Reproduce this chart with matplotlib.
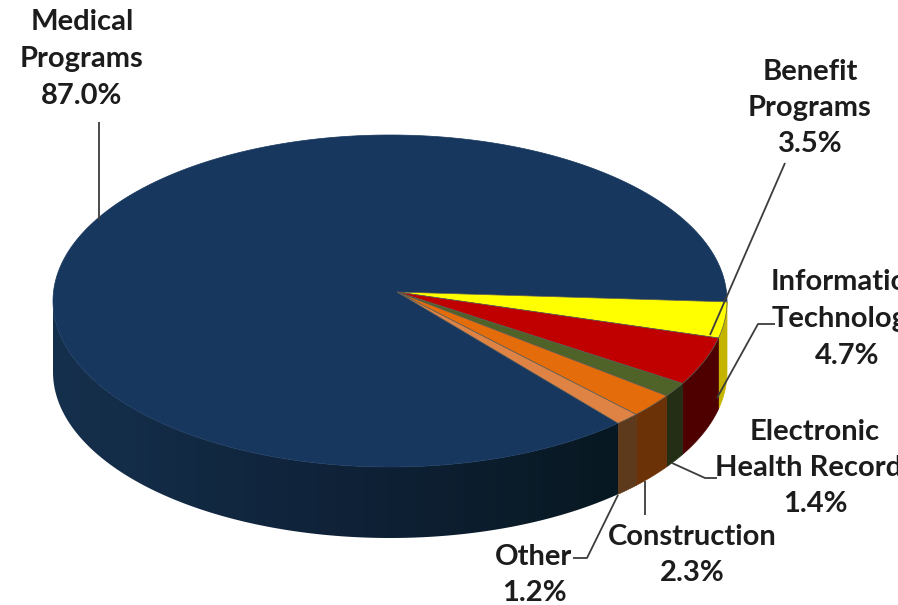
import numpy as np
import matplotlib
matplotlib.use('Agg')
import matplotlib.pyplot as plt
from matplotlib.colors import LinearSegmentedColormap
from matplotlib.patches import Polygon

labels = ['Benefit\nPrograms', 'Information\nTechnology', 'Electronic\nHealth Records',
          'Construction', 'Other', 'Medical\nPrograms']
values = [3.5, 4.7, 1.4, 2.3, 1.2, 87.0]
top_colors = ['#FFFF00', '#C00000', '#4F6228', '#E46C0A', '#DE8344', '#17375E']
side_colors = ['#C4B400', '#4E0000', '#232E14', '#6A3206', '#5E3A1C', '#081822']

# label centre (middle of text block) in pixels
label_pos = [(810, 108), (847, 319), (815, 468), (692, 555), (534, 575), (82, 59)]
leaders = [
    [(785, 163), (710, 335)],
    [(775, 324), (758, 324), (717, 398)],
    [(672, 463), (705, 478), (717, 478)],
    [(645, 481), (645, 515)],
    [(618, 495), (587, 558), (573, 558)],
    [(99, 122), (99, 220)],
]

cx, cy, rx, ry = 390, 301, 337, 166
apex = (397, 292)
depth = 71


def rim(t):
    t = np.radians(t)
    return cx + rx * np.cos(t), cy + ry * np.sin(t)


fig = plt.figure(figsize=(8.98, 6.05), dpi=100)
ax = fig.add_axes([0, 0, 1, 1])
ax.axis('off')

angles = np.cumsum([0] + values) / sum(values) * 360 + 0.3

# side wall, only the front half shows
for i in range(len(values)):
    a0, a1 = angles[i], min(angles[i + 1], 180)
    if a0 >= 180:
        continue
    x, y = rim(np.linspace(a0, a1, 200))
    xs, ys = np.r_[x, x[::-1]], np.r_[y, y[::-1] + depth]
    if i == len(values) - 1:
        # long blue wall: gradient, lighter on the left
        cmap = LinearSegmentedColormap.from_list('wall', ['#15304D', '#0F2238', side_colors[i]])
        im = ax.imshow(np.linspace(0, 1, 256).reshape(1, -1), cmap=cmap, aspect='auto',
                       extent=(x.min(), x.max(), 605, 0), zorder=2, interpolation='bilinear')
        patch = Polygon(np.c_[xs, ys], closed=True, transform=ax.transData)
        im.set_clip_path(patch)
    else:
        ax.fill(xs, ys, color=side_colors[i], lw=0.5, zorder=2)

# top face
for i in range(len(values)):
    x, y = rim(np.linspace(angles[i], angles[i + 1], 400))
    if i < len(values) - 1:
        ax.fill(np.r_[apex[0], x], np.r_[apex[1], y], facecolor=top_colors[i],
                edgecolor='#5a5a50', lw=0.5, zorder=3.5)
    else:
        ax.fill(np.r_[apex[0], x], np.r_[apex[1], y], color=top_colors[i], lw=0.5, zorder=3)

for line in leaders:
    xs, ys = zip(*line)
    ax.plot(xs, ys, color='#3c3c3c', lw=1.3, zorder=4, solid_capstyle='butt')

for lab, v, p in zip(labels, values, label_pos):
    ax.text(p[0], p[1], f'{lab}\n{v:.1f}%', ha='center', va='center', family='Lato',
            fontweight='bold', fontsize=21, color='#1c1c1c', linespacing=1.5, zorder=5)

ax.set_xlim(0, 898)
ax.set_ylim(605, 0)
fig.savefig('out.png', dpi=100)
